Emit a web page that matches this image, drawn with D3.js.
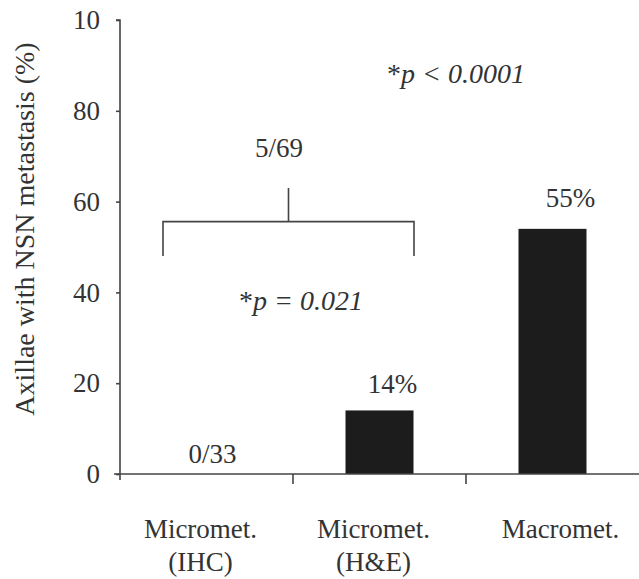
<!DOCTYPE html>
<html><head><meta charset="utf-8">
<script src="https://cdn.jsdelivr.net/npm/d3@7"></script>
<style>body{margin:0;background:#fff}svg{display:block}</style>
</head><body><svg id="c" width="639" height="579"></svg>
<script>
const categories = ["Micromet.|(IHC)", "Micromet.|(H&E)", "Macromet."];
const values = [0, 14, 54];
const barLabels = ["0/33", "14%", "55%"];
const tickValues = [0, 20, 40, 60, 80, 100];
const tickLabels = ["0", "20", "40", "60", "80", "10"];
const groupLabel = "5/69";
const pGroup = "= 0.021";
const pAll = "< 0.0001";

const svg = d3.select("#c");
const font = "'Liberation Serif','Times New Roman',serif";
const fs = 27;
const ink = "#333";
const x0 = 120, x1 = 639, yTop = 20, yBot = 474;
const y = d3.scaleLinear().domain([0, 100]).range([yBot, yTop]);
const x = d3.scaleBand().domain(categories).range([x0, x1]).paddingInner(0).paddingOuter(0);
const bw = 68;

// bars
svg.selectAll("rect.bar").data(values.map((v,i)=>({v,c:categories[i]}))).enter().append("rect")
  .attr("x", d => x(d.c) + x.bandwidth()/2 - bw/2)
  .attr("y", d => y(d.v)).attr("width", bw).attr("height", d => yBot - y(d.v))
  .attr("fill", d => d.v > 0 ? "#1c1c1c" : "none");

// y axis
const yAxis = d3.axisLeft(y).tickValues(tickValues).tickFormat((d,i)=>tickLabels[i]).tickSize(4).tickPadding(16);
const gy = svg.append("g").attr("transform", `translate(${x0},0)`).call(yAxis);
gy.select(".domain").attr("stroke", "#444").attr("stroke-width", 1.6).attr("d", `M-4,${yTop}H0V${yBot+6}`);
gy.selectAll(".tick line").attr("stroke", "#444").attr("stroke-width", 1.6);
gy.selectAll(".tick text").attr("font-family", font).attr("font-size", fs).attr("fill", ink);

// x axis
const gx = svg.append("g").attr("transform", `translate(0,${yBot})`);
gx.append("line").attr("x1", x0 - 6).attr("x2", x1).attr("stroke", "#444").attr("stroke-width", 1.6);
categories.slice(1).forEach(c => {
  gx.append("line").attr("x1", x(c)).attr("x2", x(c)).attr("y1", 0).attr("y2", 10).attr("stroke", "#444").attr("stroke-width", 1.6);
});
const catDx = [-6, -6, 8];
categories.forEach((c, ci) => {
  const parts = c.split("|");
  const t = gx.append("text").attr("text-anchor", "middle").attr("font-family", font).attr("font-size", fs).attr("fill", ink);
  parts.forEach((p, i) => t.append("tspan").attr("x", x(c) + x.bandwidth()/2 + catDx[ci]).attr("y", 64 + i*33).text(p));
});

// bar labels
const lblDx = [6, 13, 18];
const lblDy = [11, 17, 22];
barLabels.forEach((l, i) => {
  const c = categories[i];
  svg.append("text").attr("x", x(c) + x.bandwidth()/2 + lblDx[i]).attr("y", y(values[i]) - lblDy[i])
    .attr("text-anchor", "middle").attr("font-family", font).attr("font-size", fs).attr("fill", ink).text(l);
});

// bracket
const bx1 = 163, bx2 = 414, by = y(55.6), bstem = y(63), blegs = y(48);
svg.append("path").attr("d", `M${bx1},${blegs}V${by}H${bx2}V${blegs}M${(bx1+bx2)/2},${by}V${bstem}`)
  .attr("fill", "none").attr("stroke", "#444").attr("stroke-width", 1.6);
svg.append("text").attr("x", 279).attr("y", y(69.9)).attr("text-anchor", "middle")
  .attr("font-family", font).attr("font-size", fs).attr("fill", ink).text(groupLabel);

// p values
function pText(xp, yp, rest) {
  const t = svg.append("text").attr("x", xp).attr("y", yp).attr("font-family", font).attr("font-size", fs + 1).attr("fill", ink).attr("font-style", "italic");
  t.append("tspan").attr("font-style", "normal").text("*");
  t.append("tspan").text("p " + rest);
}
pText(239, y(36.1), pGroup);
pText(387, y(86.1), pAll);

// y title
svg.append("text").attr("transform", `translate(34,229) rotate(-90)`).attr("text-anchor", "middle")
  .attr("font-family", font).attr("font-size", 28).attr("fill", ink).text("Axillae with NSN metastasis  (%)");
</script></body></html>
